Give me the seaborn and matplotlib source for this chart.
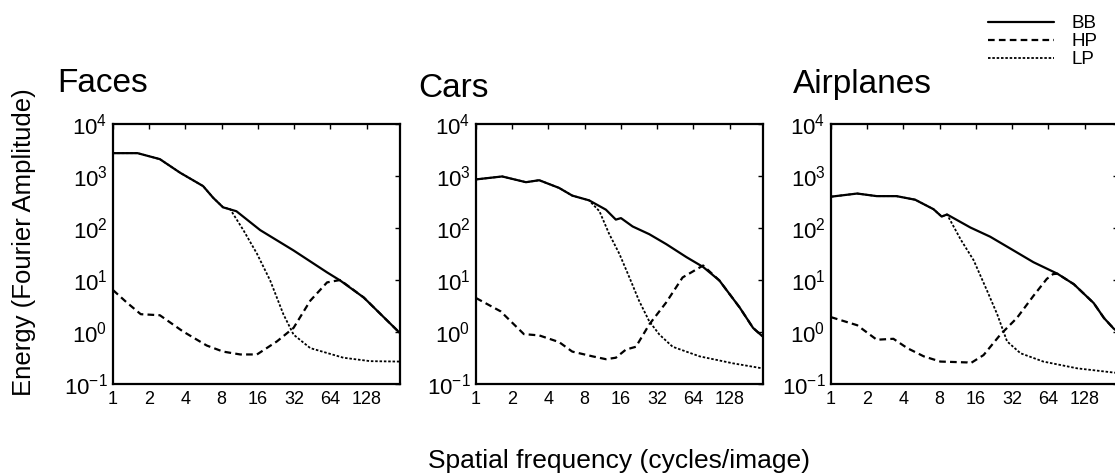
#!/usr/bin/env python3
# Energy spectra of broadband / high-pass / low-pass images, three categories

import matplotlib
matplotlib.use("Agg")
import matplotlib.pyplot as plt
import seaborn as sns
from matplotlib.ticker import FixedLocator, NullLocator, LogFormatterMathtext

# ============================================================================
# DATA (frequency in cycles/image)
# ============================================================================
titles = ["Faces", "Cars", "Airplanes"]
filter_labels = ["BB", "HP", "LP"]
x_ticks = [1, 2, 4, 8, 16, 32, 64, 128]
y_ticks = [1e-1, 1e0, 1e1, 1e2, 1e3, 1e4]

# Faces
faces_bb_f = [1, 1.6, 2.45, 3.6, 5.6, 6.8, 8.2, 10.6, 16.7, 31.6, 60, 77, 121, 242]
faces_bb_e = [2750, 2750, 2110, 1160, 640, 380, 250, 210, 91, 37, 14, 9.8, 4.6, 0.95]
faces_hp_f = [1, 1.3, 1.7, 2.45, 3.8, 6.0, 8.2, 11.4, 15.7, 23, 31.6, 43.5, 60, 77, 121, 242]
faces_hp_e = [6.4, 3.7, 2.2, 2.1, 1.03, 0.55, 0.42, 0.37, 0.37, 0.66, 1.2, 4.0, 9.0, 10, 4.6, 0.95]
faces_lp_f = [1, 1.6, 2.45, 3.6, 5.6, 6.8, 8.2, 9.4, 12.1, 15.7, 20.2, 26, 31.6, 43.5, 82, 137, 242]
faces_lp_e = [2750, 2750, 2110, 1160, 640, 380, 250, 230, 91, 32, 9.8, 2.2, 0.89, 0.49, 0.32, 0.275, 0.27]

# Cars
cars_bb_f = [1, 1.65, 2.6, 3.35, 4.9, 6.3, 8.7, 12, 14.5, 16, 20, 27.5, 38, 56, 77, 105, 155, 200, 239]
cars_bb_e = [860, 980, 760, 830, 590, 420, 340, 225, 145, 155, 107, 76, 49, 27.5, 17.8, 9.8, 2.95, 1.2, 0.83]
cars_hp_f = [1, 1.6, 2.5, 3.35, 4.9, 6.3, 9.3, 12, 14.5, 17.6, 21.3, 27.5, 38, 52, 77, 105, 155, 200, 239]
cars_hp_e = [4.5, 2.5, 0.91, 0.86, 0.64, 0.42, 0.34, 0.30, 0.32, 0.46, 0.52, 1.4, 3.7, 11.2, 19, 9.8, 2.95, 1.2, 0.83]
cars_lp_f = [1, 1.65, 2.6, 3.35, 4.9, 6.3, 8.7, 10.6, 12.7, 15.5, 18.8, 22.6, 27.5, 33.4, 43, 72, 136, 239]
cars_lp_e = [860, 980, 760, 830, 590, 420, 340, 210, 79, 32, 11.2, 4.0, 1.6, 0.89, 0.52, 0.34, 0.25, 0.20]

# Airplanes
planes_bb_f = [1, 1.65, 2.4, 3.5, 5.0, 7.1, 8.3, 9.2, 14.4, 21, 31, 48, 76, 104, 152, 185, 223, 244]
planes_bb_e = [400, 460, 410, 410, 350, 230, 166, 182, 102, 68, 40, 22, 13.2, 8.3, 3.6, 1.86, 1.16, 1.0]
planes_hp_f = [1, 1.65, 2.4, 3.3, 4.3, 5.9, 8.1, 13.5, 14.4, 18.5, 25.5, 35, 48, 62, 70, 76, 104, 152, 185, 223, 244]
planes_hp_e = [1.93, 1.35, 0.71, 0.74, 0.49, 0.34, 0.27, 0.26, 0.25, 0.36, 0.89, 1.86, 4.95, 10.5, 13.0, 13.2, 8.3, 3.6, 1.86, 1.16, 1.0]
planes_lp_f = [1, 1.65, 2.4, 3.5, 5.0, 7.1, 8.3, 9.2, 12, 15.3, 19.8, 24, 29, 37.5, 58, 111, 223, 244]
planes_lp_e = [400, 460, 410, 410, 350, 230, 166, 182, 59, 24, 6.2, 2.2, 0.66, 0.39, 0.27, 0.20, 0.166, 0.162]

panels = [
    [(faces_bb_f, faces_bb_e), (faces_hp_f, faces_hp_e), (faces_lp_f, faces_lp_e)],
    [(cars_bb_f, cars_bb_e), (cars_hp_f, cars_hp_e), (cars_lp_f, cars_lp_e)],
    [(planes_bb_f, planes_bb_e), (planes_hp_f, planes_hp_e), (planes_lp_f, planes_lp_e)],
]

# ============================================================================
# THEME SETTINGS
# ============================================================================
sns.set_theme(style="white")
plt.rcParams['font.family'] = ['Liberation Sans', 'DejaVu Sans']
plt.rcParams['mathtext.fontset'] = 'custom'
plt.rcParams['mathtext.rm'] = 'Liberation Sans'
plt.rcParams['axes.unicode_minus'] = False
plt.rcParams['axes.edgecolor'] = 'black'
plt.rcParams['axes.linewidth'] = 1.6
plt.rcParams['text.color'] = 'black'
plt.rcParams['xtick.color'] = 'black'
plt.rcParams['ytick.color'] = 'black'
plt.rcParams['axes.labelcolor'] = 'black'

line_styles = {
    'BB': dict(linestyle='-', lw=1.6),
    'HP': dict(linestyle=(0, (3.0, 1.9)), lw=1.6),
    'LP': dict(linestyle=(0, (1.4, 1.0)), lw=1.3),
}

# ============================================================================
# CREATE PLOT
# ============================================================================
W, H = 1115, 475
fig = plt.figure(figsize=(W / 100, H / 100), dpi=100)

ax_left = [113, 476, 831]
ax_w, ax_h = 287, 260
ax_bottom = H - 384
title_pos = [(-0.195, 1.123), (-0.202, 1.104), (-0.132, 1.119)]

for i, series in enumerate(panels):
    ax = fig.add_axes([ax_left[i] / W, ax_bottom / H, ax_w / W, ax_h / H])
    for lab, (f, e) in zip(filter_labels, series):
        sns.lineplot(x=f, y=e, ax=ax, color='black', estimator=None, sort=False,
                     label=lab, legend=False, **line_styles[lab])

    ax.set_xscale('log', base=2)
    ax.set_yscale('log')
    ax.set_xlim(1, 242)
    ax.set_ylim(1e-1, 1e4)
    ax.xaxis.set_major_locator(FixedLocator(x_ticks))
    ax.set_xticklabels([str(t) for t in x_ticks])
    ax.xaxis.set_minor_locator(NullLocator())
    ax.yaxis.set_major_locator(FixedLocator(y_ticks))
    ax.yaxis.set_major_formatter(LogFormatterMathtext())
    ax.yaxis.set_minor_locator(NullLocator())
    ax.tick_params(axis='both', which='major', direction='in', top=True, right=True,
                   length=3.5, width=1, color='black')
    ax.tick_params(axis='x', labelsize=13, pad=5)
    ax.tick_params(axis='y', labelsize=16, pad=4)
    ax.grid(False)
    ax.text(title_pos[i][0], title_pos[i][1], titles[i], transform=ax.transAxes,
            fontsize=24, ha='left', va='baseline')
    if i == 0:
        handles = ax.get_lines()

fig.text(619.5 / W, (H - 468) / H, "Spatial frequency (cycles/image)",
         fontsize=19, ha='center', va='baseline')
fig.text(24 / W, 1 - 242 / H, "Energy (Fourier Amplitude)",
         fontsize=18.5, ha='center', va='center', rotation=90)

fig.legend(handles, filter_labels, loc='upper left', bbox_to_anchor=(988 / W, 1 - 15 / H),
           frameon=False, fontsize=13.5, handlelength=3.5, handletextpad=0.95,
           labelspacing=0.05, borderpad=0, borderaxespad=0)

# ============================================================================
# SAVE OUTPUT
# ============================================================================
plt.savefig("out.png", dpi=100)
print("Plot saved to: out.png")
plt.close()
